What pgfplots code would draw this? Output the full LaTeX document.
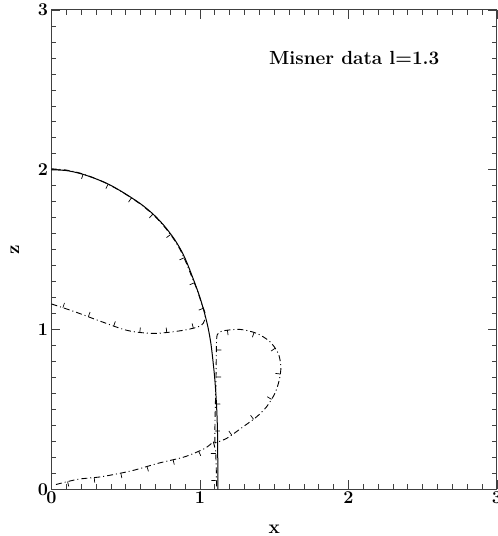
\documentclass[border=0pt]{standalone}
\usepackage{pgfplots}
\pgfplotsset{compat=1.18}
\usetikzlibrary{decorations.markings}

% contour hatch marks: short strokes on one side of the line
\tikzset{
  hatchR/.style={postaction={decorate}, decoration={markings,
      mark=between positions 12pt and -6pt step 27pt with {\draw[solid,line width=0.7pt] (0,0) -- (0,-5pt);}}},
  hatchL/.style={postaction={decorate}, decoration={markings,
      mark=between positions 12pt and -6pt step 27pt with {\draw[solid,line width=0.7pt] (0,0) -- (0,5pt);}}},
  dashdot/.style={line width=0.9pt, dash pattern=on 6pt off 3pt on 1pt off 3pt}
}

\begin{document}
\begin{tikzpicture}
\begin{axis}[
  scale only axis,
  width=445.5pt, height=479.4pt,
  xmin=0, xmax=3, ymin=0, ymax=3,
  xtick={0,1,2,3}, ytick={0,1,2,3},
  minor tick num=9,
  tick align=inside,
  major tick length=9pt, minor tick length=5pt,
  axis line style={line width=1pt, black!75},
  every tick/.style={line width=0.7pt, black!75},
  /pgf/number format/assume math mode=true,
  ticklabel style={font=\fontsize{18}{21}\selectfont\bfseries},
  xticklabel style={yshift=1pt},
  yticklabel style={xshift=0pt},
  xlabel={x}, ylabel={z},
  label style={font=\fontsize{19}{22}\selectfont\bfseries},
  xlabel style={at={(axis description cs:0.5,0)}, anchor=center, yshift=-40pt},
  ylabel style={at={(axis description cs:0,0.5)}, anchor=center, yshift=36.5pt},
]
% horizon (solid)
\addplot[line width=1pt, smooth, tension=0.5] coordinates {
 (0,2.0) (0.1,1.995) (0.192,1.977) (0.28,1.95) (0.372,1.915) (0.45,1.876)
 (0.529,1.831) (0.61,1.78) (0.686,1.721) (0.755,1.654) (0.82,1.576) (0.87,1.501)
 (0.91,1.423) (0.966,1.289) (1.0,1.2) (1.03,1.105) (1.055,1.01)
 (1.074,0.91) (1.088,0.8) (1.099,0.7) (1.107,0.6) (1.113,0.5) (1.117,0.4)
 (1.119,0.3) (1.12,0.15) (1.12,0.0)
};
% upper contour (closed on the z axis)
\addplot[dashdot, smooth, tension=0.5, hatchL] coordinates {
 (0,1.16) (0.158,1.111) (0.338,1.049) (0.517,0.993) (0.697,0.976) (0.899,0.997)
 (1.011,1.028) (1.036,1.09) (1.012,1.16) (0.98,1.25) (0.945,1.33) (0.905,1.423)
 (0.866,1.501) (0.816,1.576) (0.751,1.654) (0.682,1.721) (0.606,1.78) (0.526,1.831)
 (0.448,1.876) (0.37,1.915) (0.28,1.951) (0.192,1.979) (0.1,1.998) (0,2.006)
};
% lower contour
\addplot[dashdot, smooth, tension=0.5, hatchR] coordinates {
 (0.03,0.03) (0.18,0.063) (0.338,0.079) (0.54,0.116) (0.719,0.163)
 (0.899,0.204) (1.034,0.257) (1.09,0.298)
};
\addplot[dashdot, hatchR] coordinates {
 (1.09,0.298) (1.106,0.24) (1.110,0.12) (1.112,0.0)
};
% loop to the right of the horizon
\addplot[dashdot, smooth, tension=0.5, hatchR] coordinates {
 (1.10,0.29) (1.101,0.4) (1.103,0.5) (1.108,0.7) (1.112,0.934) (1.123,0.976)
 (1.157,0.992) (1.269,1.001) (1.382,0.976) (1.471,0.924) (1.527,0.851)
 (1.545,0.767) (1.534,0.684) (1.505,0.601) (1.449,0.517) (1.382,0.454)
 (1.292,0.392) (1.18,0.319) (1.10,0.29)
};
\node[anchor=base west, inner sep=0pt, font=\fontsize{19}{22}\selectfont\bfseries]
  at (axis cs:1.465,2.661) {Misner data l=1.3};
\end{axis}
\pgfresetboundingbox
\path ([xshift=-51.5pt,yshift=-46.7pt]current axis.south west)
  rectangle ([xshift=0.5pt,yshift=10pt]current axis.north east);
\end{tikzpicture}
\end{document}
